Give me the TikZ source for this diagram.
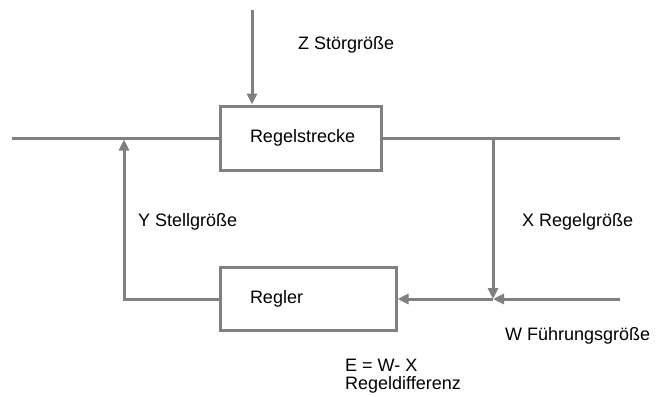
\documentclass[tikz,border=0pt]{standalone}
\usepackage{fontspec}
\setmainfont{Liberation Sans}
\usetikzlibrary{arrows.meta, calc}
\definecolor{linegrey}{RGB}{128,128,128}

\begin{document}
\begin{tikzpicture}[x=1pt,y=-1pt]
      \tikzset{block/.style={draw=linegrey,
          line width=3pt,
          fill=white,
          minimum height=#1,
          inner xsep=30pt,
          inner ysep=0pt,
          align=left,
          font=\fontsize{18}{20}\selectfont},
        signal/.style={draw=linegrey,line width=3pt,
          -{Triangle[length=11pt,width=10pt]}},
        wire/.style={draw=linegrey,line width=3pt},
        tag/.style={anchor=west,inner sep=0pt,font=\fontsize{18}{20}\selectfont}
      }
      \useasboundingbox (0,0) rectangle (658,396);
      \node [block=64pt,text width=101pt] (strecke) at (300.5,138) {Regelstrecke};
      \node [block=63pt,text width=116pt] (regler) at (308,298.5) {Regler};

      \coordinate (zin) at (252,10);
      \coordinate (lin) at (12,138);
      \coordinate (lout) at (620,138);
      \coordinate (ytap) at (124,138);
      \coordinate (xtap) at (493,138);
      \coordinate (j) at (493,299);
      \coordinate (win) at (620,299);

      \draw [wire] (lin)--(strecke.west |- lin);
      \draw [wire] (strecke.east |- lout)--(lout);
      \draw [signal] (zin)--(strecke.north -| zin);
      \draw [signal] (regler.west |- j) -| ($(ytap)+(0,1.5)$);
      \draw [signal] (xtap)--(j);
      \draw [signal] (win)--(j);
      \draw [signal] (j)--(regler.east |- j);

      \node [tag] (z) at (298,45) {Z Störgröße};
      \node [tag] (y) at (138,222) {Y Stellgröße};
      \node [tag] (x) at (522,222) {X Regelgröße};
      \node [tag] (w) at (505,336) {W Führungsgröße};
      \node [tag] (e) at (345,365) {E = W- X};
      \node [tag] (ed) at (345,385) {Regeldifferenz};
    \end{tikzpicture}
\end{document}
